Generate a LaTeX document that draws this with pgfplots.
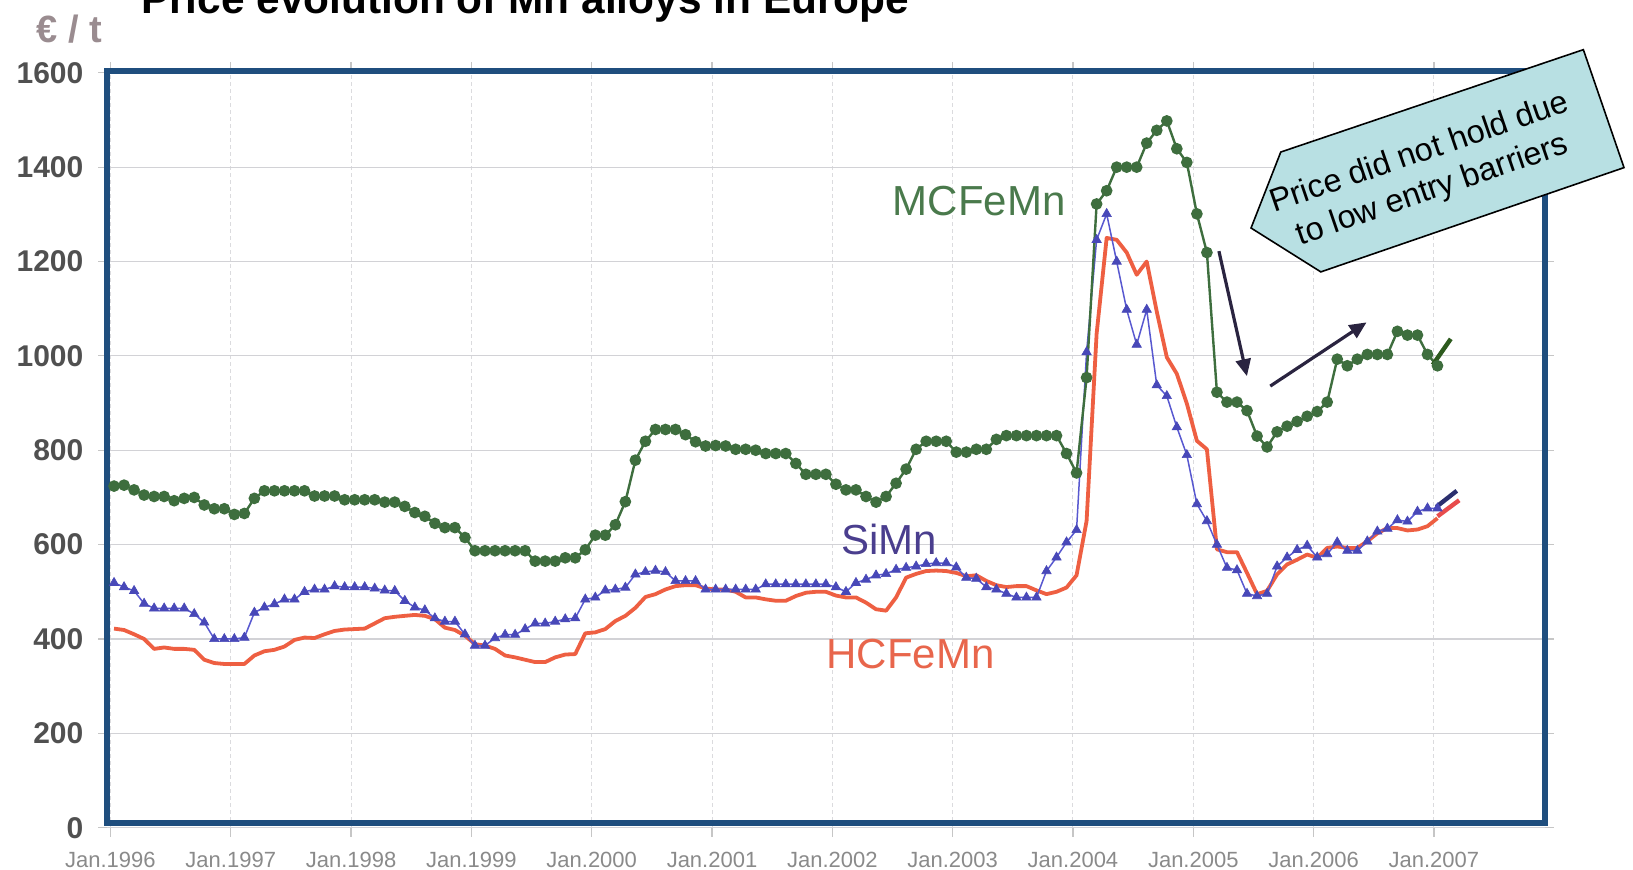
\documentclass[border=0pt]{standalone}
\usepackage{pgfplots}
\pgfplotsset{compat=1.18}
\usepackage{pgfplotstable}
\usepackage{fontspec}
\setmainfont{Liberation Sans}
\usetikzlibrary{arrows.meta}

\definecolor{frameblue}{HTML}{1F4E7E}
\definecolor{mcgreen}{HTML}{3E6E3E}
\definecolor{siblue}{HTML}{5858D0}
\definecolor{simark}{HTML}{4848B8}
\definecolor{hcred}{HTML}{EE5F42}
\definecolor{gridc}{HTML}{D2D2D6}
\definecolor{ylab}{HTML}{505050}
\definecolor{xlab}{HTML}{8A8A8A}
\definecolor{eurc}{HTML}{9A8C90}
\definecolor{callout}{HTML}{B8E0E3}
\definecolor{arrowc}{HTML}{2A2440}
\definecolor{mclab}{HTML}{4A7A4C}
\definecolor{silab}{HTML}{4A3E8E}
\definecolor{hclab}{HTML}{E8664C}
\definecolor{extgreen}{HTML}{2D5A1E}
\definecolor{extnavy}{HTML}{2B2F6E}
\definecolor{extred}{HTML}{E84C4C}

% month index m (0 = Jan 1996), value in EUR/t
\pgfplotstableread{
m v
0 724
1 726
2 716
3 705
4 702
5 702
6 693
7 698
8 700
9 684
10 676
11 676
12 664
13 666
14 698
15 714
16 714
17 714
18 714
19 714
20 703
21 703
22 703
23 695
24 695
25 695
26 695
27 690
28 690
29 681
30 668
31 660
32 645
33 636
34 636
35 615
36 587
37 587
38 587
39 587
40 587
41 587
42 565
43 565
44 565
45 572
46 572
47 589
48 620
49 620
50 642
51 691
52 779
53 819
54 844
55 844
56 844
57 833
58 818
59 809
60 810
61 809
62 802
63 802
64 800
65 793
66 793
67 793
68 772
69 749
70 749
71 749
72 728
73 716
74 716
75 702
76 690
77 702
78 730
79 760
80 802
81 819
82 819
83 819
84 796
85 796
86 802
87 802
88 823
89 831
90 831
91 831
92 831
93 831
94 831
95 793
96 752
97 954
98 1322
99 1350
100 1400
101 1400
102 1400
103 1451
104 1478
105 1498
106 1439
107 1410
108 1301
109 1219
110 923
111 902
112 902
113 884
114 830
115 807
116 839
117 851
118 861
119 872
120 882
121 902
122 993
123 979
124 993
125 1003
126 1003
127 1003
128 1052
129 1044
130 1044
131 1003
132 979
}\mcfemn

\pgfplotstableread{
m v
0 519
1 510
2 502
3 475
4 465
5 465
6 465
7 465
8 453
9 435
10 400
11 400
12 400
13 403
14 456
15 467
16 474
17 484
18 484
19 500
20 505
21 505
22 512
23 510
24 510
25 510
26 507
27 503
28 502
29 481
30 467
31 461
32 444
33 437
34 437
35 410
36 386
37 386
38 402
39 409
40 409
41 421
42 433
43 433
44 437
45 442
46 444
47 484
48 488
49 503
50 505
51 509
52 537
53 542
54 545
55 542
56 523
57 523
58 523
59 505
60 505
61 505
62 505
63 505
64 505
65 516
66 516
67 516
68 516
69 516
70 516
71 516
72 510
73 500
74 519
75 526
76 535
77 538
78 547
79 551
80 554
81 559
82 561
83 561
84 552
85 530
86 528
87 510
88 505
89 496
90 488
91 488
92 488
93 544
94 573
95 605
96 631
97 1008
98 1246
99 1301
100 1200
101 1098
102 1024
103 1098
104 938
105 915
106 849
107 790
108 686
109 650
110 600
111 551
112 546
113 496
114 491
115 496
116 554
117 573
118 589
119 598
120 573
121 580
122 605
123 587
124 587
125 607
126 628
127 634
128 652
129 649
130 670
131 677
132 677
}\simn

\pgfplotstableread{
m v
0 422
1 419
2 410
3 400
4 379
5 382
6 379
7 379
8 377
9 356
10 349
11 347
12 347
13 347
14 365
15 374
16 377
17 384
18 398
19 403
20 402
21 410
22 417
23 420
24 421
25 422
26 433
27 444
28 447
29 449
30 451
31 449
32 442
33 424
34 419
35 407
36 389
37 386
38 379
39 365
40 361
41 356
42 351
43 351
44 361
45 367
46 368
47 412
48 414
49 421
50 438
51 449
52 466
53 489
54 495
55 505
56 512
57 514
58 514
59 507
60 505
61 505
62 500
63 488
64 488
65 484
66 481
67 481
68 491
69 498
70 500
71 500
72 492
73 488
74 488
75 477
76 463
77 460
78 488
79 530
80 538
81 544
82 545
83 544
84 540
85 533
86 535
87 523
88 514
89 510
90 512
91 512
92 503
93 495
94 500
95 509
96 535
97 650
98 1047
99 1250
100 1246
101 1219
102 1172
103 1200
104 1094
105 997
106 962
107 899
108 820
109 802
110 590
111 584
112 584
113 540
114 495
115 502
116 537
117 558
118 568
119 579
120 572
121 593
122 596
123 593
124 593
125 607
126 624
127 635
128 635
129 630
130 632
131 639
132 656
}\hcfemn

\begin{document}
\begin{tikzpicture}[x=1pt,y=1pt]
\begin{axis}[
  at={(53.65pt,20.65pt)}, anchor=south west,
  scale only axis, width=718.65pt, height=378.4pt,
  xmin=1995.974, xmax=2007.92, ymin=0, ymax=1604,
  clip=false,
  axis line style={draw=none},
  xtick={1996,1997,1998,1999,2000,2001,2002,2003,2004,2005,2006,2007},
  xticklabels={Jan.1996,Jan.1997,Jan.1998,Jan.1999,Jan.2000,Jan.2001,Jan.2002,Jan.2003,Jan.2004,Jan.2005,Jan.2006,Jan.2007},
  ytick={0,200,400,600,800,1000,1200,1400,1600},
  yticklabels={0,200,400,600,800,1000,1200,1400,1600},
  xmajorgrids, ymajorgrids,
  x grid style={gridc!80, line width=0.5pt, dash pattern=on 2pt off 1.5pt},
  y grid style={gridc, line width=0.6pt},
  tick align=outside,
  major tick length=4.5pt,
  tick style={gray!45, line width=0.6pt},
  xticklabel style={font=\fontsize{11}{12}\selectfont, text=xlab, inner sep=0pt, anchor=north, yshift=-7.5pt},
  yticklabel style={font=\fontsize{15}{16}\selectfont\bfseries, text=ylab, inner sep=0pt, anchor=east, xshift=-7.3pt},
]
\addplot[color=hcred, line width=1.9pt, line join=round] table[x expr=1996.03+\thisrow{m}/12, y=v] {\hcfemn};
\addplot[color=siblue, line width=0.75pt, mark=triangle*, mark size=2.7pt, mark options={fill=simark, draw=simark, line width=0.3pt}] table[x expr=1996.03+\thisrow{m}/12, y=v] {\simn};
\addplot[color=mcgreen, line width=1.2pt, mark=*, mark size=2.3pt, mark options={fill=mcgreen, draw=mcgreen}] table[x expr=1996.03+\thisrow{m}/12, y=v] {\mcfemn};

\addplot[color=extgreen, line width=2.2pt] coordinates {(2006.99,981) (2007.14,1036)};
\addplot[color=extnavy, line width=2.2pt] coordinates {(2007.02,680) (2007.19,714)};
\addplot[color=extred, line width=2.2pt] coordinates {(2007.03,660) (2007.21,694)};

\node[text=mclab, font=\fontsize{21}{24}\selectfont] at (axis cs:2003.22,1328) {MCFeMn};
\node[text=silab, font=\fontsize{21}{24}\selectfont] at (axis cs:2002.47,610) {SiMn};
\node[text=hclab, font=\fontsize{21}{24}\selectfont] at (axis cs:2002.65,369) {HCFeMn};

\draw[frameblue, line width=3pt] (axis cs:1995.974,10.6) rectangle (axis cs:2007.92,1604);

\draw[arrowc, line width=1.6pt, -{Triangle[length=8.5pt,width=7.5pt]}] (axis cs:2005.213,1222) -- (axis cs:2005.446,957);
\draw[arrowc, line width=1.6pt, -{Triangle[length=8.5pt,width=7.5pt]}] (axis cs:2005.64,936) -- (axis cs:2006.44,1071);

\draw[black, line width=0.8pt, fill=callout, line join=miter] (axis cs:2005.48,1271) -- (axis cs:2005.727,1432) -- (axis cs:2008.242,1649) -- (axis cs:2008.58,1399) -- (axis cs:2006.06,1178) -- cycle;
\node[rotate=19, align=center, font=\fontsize{16.2}{19.5}\selectfont] at (axis cs:2006.935,1389) {Price did not hold due\\to low entry barriers};
\end{axis}
\node[anchor=base west, font=\fontsize{21.2}{24}\selectfont\bfseries] at (67,427.8) {Price evolution of Mn alloys in Europe};
\node[anchor=base west, font=\fontsize{19}{21}\selectfont\bfseries, text=eurc, inner sep=0pt] at (18,413) {€ / t};
\pgfresetboundingbox
\useasboundingbox (0,0) rectangle (816.5,434.5);
\end{tikzpicture}
\end{document}
